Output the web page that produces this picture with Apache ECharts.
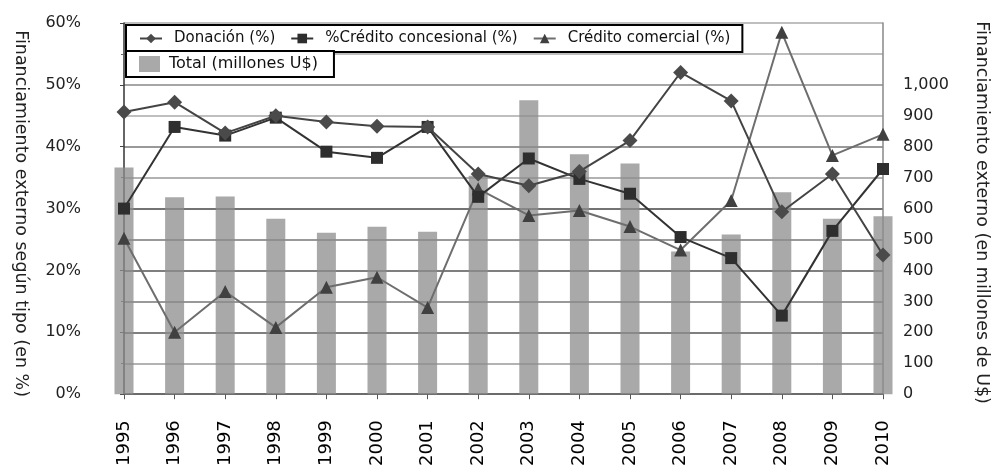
<!DOCTYPE html>
<html>
<head>
<meta charset="utf-8">
<script src="https://cdn.jsdelivr.net/npm/echarts@6/dist/echarts.min.js"></script>
<style>
  html, body { margin: 0; padding: 0; background: #fff; overflow: hidden; }
  #chart { width: 999px; height: 469px; }
</style>
</head>
<body>
<div id="chart"></div>
<script>
// Años del periodo
const years = ['1995','1996','1997','1998','1999','2000','2001','2002','2003','2004','2005','2006','2007','2008','2009','2010'];

// Composición del financiamiento externo (%)
const donacion    = [45.6, 47.2, 42.2, 45.0, 44.0, 43.3, 43.2, 35.6, 33.7, 36.0, 41.0, 52.0, 47.4, 29.5, 35.6, 22.5];
const concesional = [30.0, 43.2, 41.8, 44.7, 39.2, 38.2, 43.2, 31.9, 38.1, 34.8, 32.4, 25.4, 22.0, 12.7, 26.4, 36.4];
const comercial   = [25.2, 10.0, 16.6, 10.8, 17.3, 18.9, 14.0, 33.2, 28.9, 29.7, 27.1, 23.3, 31.3, 58.5, 38.6, 42.0];

// Monto total (millones de US$)
const total = [733, 637, 639, 567, 522, 541, 525, 706, 950, 776, 746, 461, 516, 653, 567, 575];

// Nombres de series y títulos de ejes
const seriesNames = ['Donación (%)', '%Crédito concesional (%)', 'Crédito comercial (%)', 'Total (millones U$)'];
const leftTitle = 'Financiamiento externo según tipo (en %)';
const rightTitle = 'Financiamiento externo (en millones de U$)';

const FONT = 'DejaVu Sans';

// Tonos de las líneas de la cuadrícula (de abajo hacia arriba)
const gridTones = ['#555', '#9a9a9a', '#555', '#777', '#555', '#777', '#444', '#999', '#777', '#aaa', '#888', '#aaa', '#aaa'];

const chart = echarts.init(document.getElementById('chart'), null, { renderer: 'canvas', width: 999, height: 469 });

const legendBase = {
  orient: 'horizontal',
  left: 126,
  borderColor: '#000',
  borderWidth: 2,
  backgroundColor: '#fff',
  borderRadius: 0,
  selectedMode: false,
  z: 10
};

chart.setOption({
  animation: false,
  backgroundColor: '#fff',
  grid: { left: 124, right: 106, top: 23, bottom: 72, containLabel: false },
  legend: [
    Object.assign({}, legendBase, {
      top: 25,
      data: seriesNames.slice(0, 3),
      itemWidth: 22,
      itemHeight: 12,
      itemGap: 15,
      padding: [6, 12, 6, 13],
      textStyle: { fontFamily: FONT, fontSize: 15, color: '#111', padding: [0, 0, 0, 7] }
    }),
    Object.assign({}, legendBase, {
      top: 51,
      data: [{ name: seriesNames[3], icon: 'rect' }],
      itemWidth: 21,
      itemHeight: 16,
      padding: [5, 16, 5, 13],
      textStyle: { fontFamily: FONT, fontSize: 16, color: '#111', padding: [0, 0, 0, 4] }
    })
  ],
  xAxis: {
    type: 'category',
    data: years,
    boundaryGap: false,
    axisLine: { lineStyle: { color: '#666', width: 1.5 } },
    axisTick: { show: true, length: 5, lineStyle: { color: '#555' } },
    axisLabel: {
      rotate: 90,
      margin: 26,
      fontFamily: FONT,
      fontSize: 18,
      color: '#000',
      interval: 0
    },
    splitLine: { show: false }
  },
  yAxis: [
    {
      type: 'value',
      position: 'left',
      min: 0,
      max: 60,
      interval: 10,
      name: leftTitle,
      nameLocation: 'middle',
      nameRotate: -90,
      nameGap: 94,
      nameTextStyle: { fontFamily: FONT, fontSize: 17.5, color: '#222', padding: [0, 0, 0, 10] },
      axisLine: { show: true, lineStyle: { color: '#333', width: 1.5 } },
      axisTick: { show: true, length: 4, lineStyle: { color: '#444' } },
      minorTick: { show: true, splitNumber: 2, length: 3, lineStyle: { color: '#666' } },
      axisLabel: {
        formatter: '{value}%',
        margin: 43,
        fontFamily: FONT,
        fontSize: 16,
        color: '#222'
      },
      splitLine: { show: false }
    },
    {
      type: 'value',
      position: 'right',
      min: 0,
      max: 1200,
      interval: 100,
      name: rightTitle,
      nameLocation: 'middle',
      nameRotate: -90,
      nameGap: 90,
      nameTextStyle: { fontFamily: FONT, fontSize: 17.5, color: '#222', padding: [0, 0, 0, 8] },
      axisLine: { show: true, lineStyle: { color: '#888', width: 1.5 } },
      axisTick: { show: false },
      axisLabel: {
        margin: 20,
        fontFamily: FONT,
        fontSize: 16,
        color: '#222',
        formatter: function (v) { return v > 1000 ? '' : v.toLocaleString('en-US'); }
      },
      splitLine: { show: true, lineStyle: { color: gridTones, width: 1.5 } }
    }
  ],
  series: [
    {
      name: seriesNames[3],
      type: 'bar',
      yAxisIndex: 1,
      data: total,
      barWidth: 19,
      clip: false,
      itemStyle: { color: '#8c8c8c', opacity: 0.75 },
      z: 1
    },
    {
      name: seriesNames[0],
      type: 'line',
      data: donacion,
      symbol: 'diamond',
      symbolSize: [15, 15],
      lineStyle: { color: '#444', width: 2 },
      itemStyle: { color: '#4a4a4a' },
      z: 5
    },
    {
      name: seriesNames[1],
      type: 'line',
      data: concesional,
      symbol: 'rect',
      symbolSize: 12,
      lineStyle: { color: '#333', width: 2 },
      itemStyle: { color: '#2e2e2e' },
      z: 4
    },
    {
      name: seriesNames[2],
      type: 'line',
      data: comercial,
      symbol: 'triangle',
      symbolSize: 13,
      lineStyle: { color: '#6e6e6e', width: 2 },
      itemStyle: { color: '#404040' },
      z: 3
    }
  ]
});
</script>
</body>
</html>
